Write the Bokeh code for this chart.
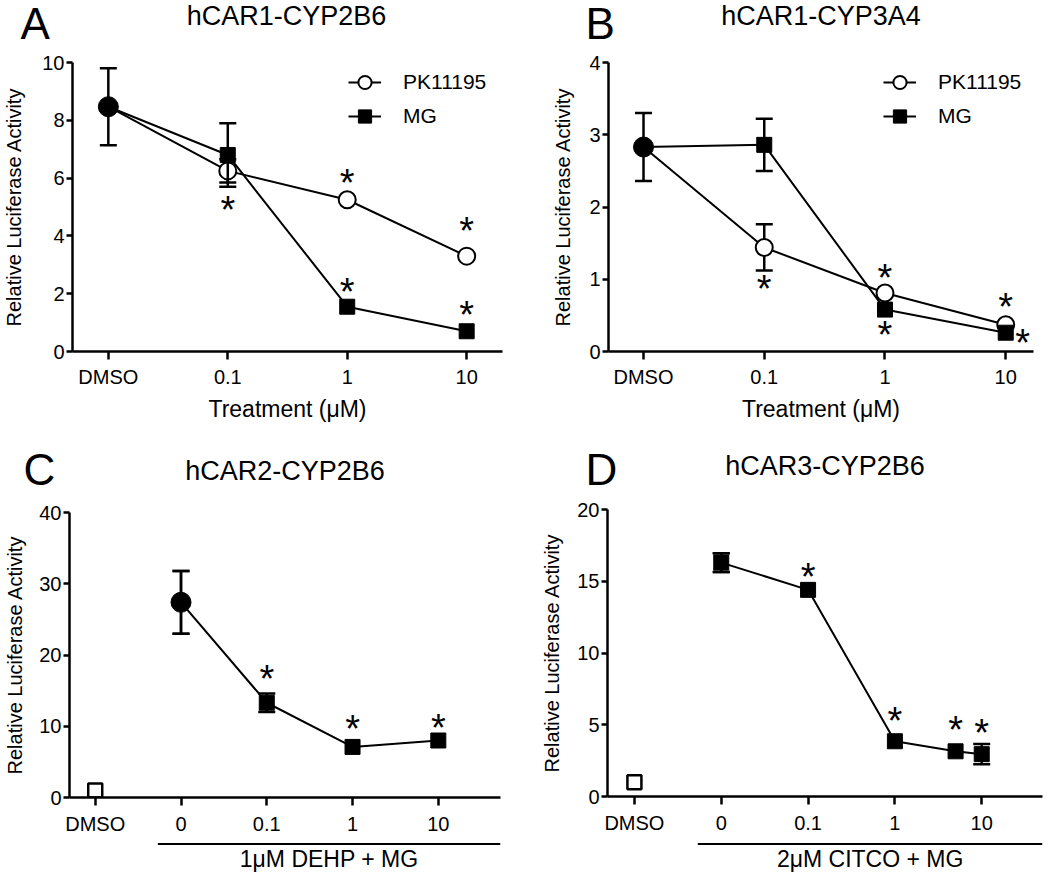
import math
from bokeh.plotting import figure
from bokeh.layouts import column, row
from bokeh.models import (FixedTicker, Label, Legend, LegendItem, Range1d,
                          ColumnDataSource)
from bokeh.core.properties import value
from bokeh.embed import file_html
from bokeh.resources import INLINE

FONT = "Liberation Sans"

# ---------------- data ----------------
# Panel A  hCAR1-CYP2B6
a_ticks = ["DMSO", "0.1", "1", "10"]
a_doses = [0.1, 1, 10]
a_dmso = 8.47
a_dmso_sem = 1.33
a_pk = [6.25, 5.25, 3.3]
a_pk_sem = [0.4, 0.0, 0.0]
a_mg = [6.8, 1.55, 0.7]
a_mg_sem = [1.1, 0.0, 0.0]

# Panel B  hCAR1-CYP3A4
b_ticks = ["DMSO", "0.1", "1", "10"]
b_doses = [0.1, 1, 10]
b_dmso = 2.83
b_dmso_sem = 0.47
b_pk = [1.44, 0.81, 0.37]
b_pk_sem = [0.32, 0.0, 0.0]
b_mg = [2.86, 0.58, 0.26]
b_mg_sem = [0.36, 0.0, 0.0]

# Panel C  hCAR2-CYP2B6 (1uM DEHP + MG)
c_ticks = ["DMSO", "0", "0.1", "1", "10"]
c_doses = [0, 0.1, 1, 10]
c_dmso = 1.0
c_vals = [27.4, 13.3, 7.1, 8.0]
c_sem = [4.4, 1.3, 0.0, 0.0]

# Panel D  hCAR3-CYP2B6 (2uM CITCO + MG)
d_ticks = ["DMSO", "0", "0.1", "1", "10"]
d_doses = [0, 0.1, 1, 5, 10]
d_dmso = 1.0
d_vals = [16.3, 14.4, 3.85, 3.15, 2.95]
d_sem = [0.65, 0.0, 0.0, 0.0, 0.7]


# ---------------- helpers ----------------
def pos_ab(c):
    # DMSO at 0, then log-spaced doses 0.1 -> 1, 1 -> 2, 10 -> 3
    return 2 + math.log10(c)


def pos_cd(c):
    # DMSO at 0, vehicle(0) at 1, then 0.1 -> 2, 1 -> 3, 10 -> 4
    return 1 if c == 0 else 3 + math.log10(c)


def blank_fig(w, h, xr, yr, left=0, right=0):
    p = figure(width=w, height=h, x_range=xr, y_range=yr,
               output_backend="svg", toolbar_location=None, title=None,
               x_axis_location=None, y_axis_location=None,
               min_border_left=left, min_border_right=right,
               min_border_top=0, min_border_bottom=0)
    p.outline_line_color = None
    p.xgrid.visible = False
    p.ygrid.visible = False
    p.background_fill_color = "white"
    p.border_fill_color = "white"
    return p


def txt(x, y, text, size, align="center"):
    return Label(x=x, y=y, text=text, text_font=FONT, text_font_size=size,
                 text_color="black", text_align=align,
                 text_baseline="alphabetic")


def header(w, h, items):
    # items: (letter, letter_x, letter_y, title, title_x, title_y)
    p = blank_fig(w, h, Range1d(0, w), Range1d(h, 0))
    for letter, lx, ly, title, tx, ty in items:
        p.add_layout(txt(lx, ly, letter, "44px", "left"))
        p.add_layout(txt(tx, ty, title, "27px"))
    return p


def make_fig(w, h, left, right, top, bottom, xr, yr, yticks, nticks, ticklabels,
             xlabel, ylabel_standoff, xlabel_standoff):
    p = figure(width=w, height=h, x_range=Range1d(*xr), y_range=Range1d(*yr),
               output_backend="svg", toolbar_location=None, title=None,
               min_border_left=left, min_border_right=right,
               min_border_top=top, min_border_bottom=bottom)
    p.outline_line_color = None
    p.xgrid.visible = False
    p.ygrid.visible = False
    p.background_fill_color = "white"
    p.border_fill_color = "white"
    for ax in (p.xaxis[0], p.yaxis[0]):
        ax.axis_line_width = 2.5
        ax.axis_line_color = "black"
        ax.major_tick_line_width = 2.5
        ax.major_tick_line_color = "black"
        ax.major_tick_in = 0
        ax.minor_tick_line_color = None
        ax.major_label_text_font = FONT
        ax.major_label_text_font_size = "20px"
        ax.major_label_text_color = "black"
        ax.axis_label_text_font = FONT
        ax.axis_label_text_font_style = "normal"
        ax.axis_label_text_color = "black"
    ya = p.yaxis[0]
    ya.ticker = FixedTicker(ticks=yticks)
    ya.major_tick_out = 6
    ya.major_label_standoff = 2
    ya.axis_label = "Relative Luciferase Activity"
    ya.axis_label_text_font_size = "20px"
    ya.axis_label_standoff = ylabel_standoff
    xa = p.xaxis[0]
    tpos = list(range(nticks))
    xa.ticker = FixedTicker(ticks=tpos)
    xa.major_label_overrides = {t: lab for t, lab in zip(tpos, ticklabels)}
    xa.major_tick_out = 8
    xa.major_label_standoff = xlabel_standoff
    if xlabel:
        xa.axis_label = xlabel
        xa.axis_label_text_font_size = "23px"
        xa.axis_label_standoff = 5
    return p


def errbars(p, xs, ys, sems):
    xe = [x for x, s in zip(xs, sems) if s > 0]
    lo = [y - s for y, s in zip(ys, sems) if s > 0]
    hi = [y + s for y, s in zip(ys, sems) if s > 0]
    if not xe:
        return
    p.segment(x0=xe, y0=lo, x1=xe, y1=hi, line_color="black", line_width=2.5)
    p.scatter(x=xe + xe, y=lo + hi, marker="dash", size=17,
              line_color="black", line_width=2.5)


def stars(p, xs, ys, dx, dy):
    src = ColumnDataSource(dict(x=xs, y=ys, t=["*"] * len(xs),
                                xo=dx, yo=[d + 5 for d in dy]))
    p.text(x="x", y="y", text="t", x_offset="xo", y_offset="yo", source=src,
           text_align="center", text_baseline="alphabetic",
           text_font=value(FONT), text_font_size="38px", text_color="black")


def two_series(p, dmso, dmso_sem, doses, pk, pk_sem, mg, mg_sem, leg_x):
    xd = [pos_ab(c) for c in doses]
    xl = [0] + xd
    pk_line = p.line(xl, [dmso] + pk, line_color="black", line_width=2)
    errbars(p, xd, pk, pk_sem)
    pk_mark = p.scatter(xd, pk, marker="circle", size=17, fill_color="white",
                        line_color="black", line_width=2)
    mg_line = p.line(xl, [dmso] + mg, line_color="black", line_width=2)
    errbars(p, xd, mg, mg_sem)
    mg_mark = p.scatter(xd, mg, marker="square", size=15, fill_color="black",
                        line_color="black", line_width=1)
    p.scatter([0], [dmso], marker="circle", size=20, fill_color="black",
              line_color="black")
    errbars(p, [0], [dmso], [dmso_sem])
    leg = Legend(items=[LegendItem(label="PK11195", renderers=[pk_line, pk_mark]),
                        LegendItem(label="MG", renderers=[mg_line, mg_mark])],
                 location=(leg_x, 218), border_line_color=None,
                 background_fill_alpha=0, label_text_font=FONT,
                 label_text_font_size="21px", label_text_color="black",
                 glyph_width=33, glyph_height=34, label_height=34, spacing=0,
                 padding=0, margin=0, label_standoff=22)
    p.add_layout(leg)
    return xd


# ---------------- Panel A ----------------
a_xr = (-0.3, 3.3)
pA = make_fig(525, 382, 70, 23, 12, 81, a_xr, (0, 10), [0, 2, 4, 6, 8, 10],
              len(a_ticks), a_ticks, "Treatment (\u03bcM)", 14, 6)
xa_pts = two_series(pA, a_dmso, a_dmso_sem, a_doses, a_pk, a_pk_sem, a_mg,
                    a_mg_sem, 276)
stars(pA, xa_pts, a_pk, [0, 0, 0], [34, -22, -30])
stars(pA, xa_pts[1:], a_mg[1:], [0, 0], [-20, -21])

# ---------------- Panel B ----------------
b_xr = (-0.29, 3.23)
pB = make_fig(525, 382, 83, 17, 12, 81, b_xr, (0, 4), [0, 1, 2, 3, 4],
              len(b_ticks), b_ticks, "Treatment (\u03bcM)", 12, 6)
xb_pts = two_series(pB, b_dmso, b_dmso_sem, b_doses, b_pk, b_pk_sem, b_mg,
                    b_mg_sem, 275)
stars(pB, xb_pts, b_pk, [0, 0, 0], [37, -20, -23])
stars(pB, xb_pts[1:], b_mg[1:], [0, 17], [20, 5])

h_top = header(1050, 50, [("A", 20, 23, "hCAR1-CYP2B6", 70 + 432 / 2, 15.5),
                          ("B", 585, 23, "hCAR1-CYP3A4", 608 + 425 / 2, 15.5)])


# ---------------- Panels C / D ----------------
def dose_panel(p, xr, dmso, doses, vals, sems, first_marker, star_dy):
    xs = [pos_cd(c) for c in doses]
    p.line(xs, vals, line_color="black", line_width=2)
    errbars(p, xs, vals, sems)
    if first_marker == "circle":
        p.scatter(xs[:1], vals[:1], marker="circle", size=20, fill_color="black",
                  line_color="black")
    else:
        p.scatter(xs[:1], vals[:1], marker="square", size=15, fill_color="black",
                  line_color="black")
    p.scatter(xs[1:], vals[1:], marker="square", size=15, fill_color="black",
              line_color="black")
    errbars(p, xs[:1], vals[:1], sems[:1])
    p.scatter([0], [dmso], marker="square", size=14, fill_color="white",
              line_color="black", line_width=2.5)
    stars(p, xs[1:], vals[1:], [0] * (len(xs) - 1), star_dy)
    return xs


def footer(w, h, left, right, xrange, first_pos, label, line_y, text_y):
    p = blank_fig(w, h, xrange, Range1d(h, 0), left, right)
    g0 = first_pos - 0.27
    g1 = xrange.end
    p.segment(x0=[g0], y0=[line_y], x1=[g1], y1=[line_y], line_color="black",
              line_width=2)
    p.add_layout(txt((g0 + g1) / 2, text_y, label, "23px"))
    return p


c_xr = (-0.30, 4.725)
pC = make_fig(525, 344, 69, 25, 14, 45, c_xr, (0, 40), [0, 10, 20, 30, 40],
              len(c_ticks), c_ticks, None, 10, 7)
xc_pts = dose_panel(pC, c_xr, c_dmso, c_doses, c_vals, c_sem, "circle",
                    [-29, -23, -18])
fC = footer(525, 36, 69, 25, pC.x_range, xc_pts[0], "1\u03bcM DEHP + MG", 1.5, 16)

d_xr = (-0.31, 4.70)
pD = make_fig(525, 344, 82, 8, 11, 46, d_xr, (0, 20), [0, 5, 10, 15, 20],
              len(d_ticks), d_ticks, None, 11, 7)
xd_pts = dose_panel(pD, d_xr, d_dmso, d_doses, d_vals, d_sem, "square",
                    [-18, -25, -26, -26])
fD = footer(525, 36, 82, 8, pD.x_range, xd_pts[0], "2\u03bcM CITCO + MG", 1.5, 16)

h_bot = header(1050, 66, [("C", 23, 37, "hCAR2-CYP2B6", 69 + 431 / 2, 38.3),
                          ("D", 585, 37, "hCAR3-CYP2B6", 607 + 435 / 2, 33.3)])

layout = column(h_top, row(pA, pB), h_bot,
                row(column(pC, fC), column(pD, fD)))
open("out.html", "w").write(file_html(layout, INLINE))
